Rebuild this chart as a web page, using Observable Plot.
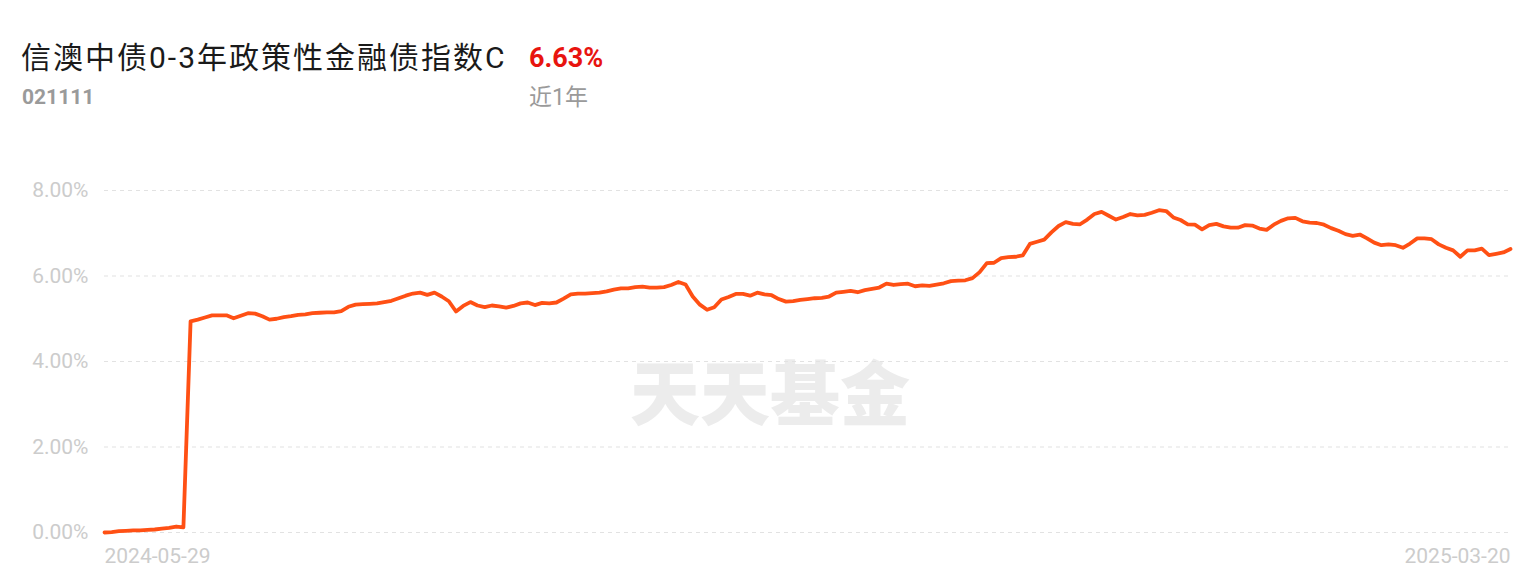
<!DOCTYPE html>
<html><head><meta charset="utf-8">
<script src="https://cdn.jsdelivr.net/npm/d3@7"></script>
<script src="https://cdn.jsdelivr.net/npm/@observablehq/plot@0.6"></script>
<style>
html,body{margin:0;padding:0;background:#fff;}
body{width:1540px;height:583px;position:relative;overflow:hidden;font-family:Roboto,"Noto Sans CJK SC",sans-serif;}
.t{position:absolute;white-space:nowrap;line-height:1;}
#title{left:21px;top:43px;font-size:30px;letter-spacing:2px;color:#1a1a1a;}
#ret{left:529px;top:45px;font-size:27px;font-weight:bold;color:#e8140f;}
#code{left:22px;top:87px;font-size:21px;font-weight:bold;color:#9a9a9a;}
#period{left:529px;top:86px;font-size:23px;color:#9a9a9a;}
#wm{left:630px;top:355px;font-size:70px;font-weight:900;color:#ececec;font-family:"Noto Sans CJK SC",sans-serif;letter-spacing:0px;}
#chart{position:absolute;left:0;top:150px;}
</style></head><body>
<div class="t" id="wm"></div>
<div class="t" id="title"></div>
<div class="t" id="ret"></div>
<div class="t" id="code"></div>
<div class="t" id="period"></div>
<div id="chart"></div>
<script>
const fundName = "信澳中债0-3年政策性金融债指数C";
const fundCode = "021111";
const periodLabel = "近1年";
const periodReturn = "6.63%";
const watermark = "天天基金";
const yTicks = [0, 2, 4, 6, 8];
const xTickLabels = ["2024-05-29", "2025-03-20"];
// cumulative return (%) per trading day
const cumReturn = [
  0.00, 0.01, 0.03, 0.04, 0.05, 0.05, 0.06, 0.07, 0.09, 0.11,
  0.14, 0.12, 4.94, 4.98, 5.03, 5.08, 5.08, 5.08, 5.01, 5.07,
  5.13, 5.12, 5.06, 4.98, 5.00, 5.04, 5.06, 5.09, 5.10, 5.13,
  5.14, 5.15, 5.15, 5.18, 5.28, 5.33, 5.34, 5.35, 5.36, 5.39,
  5.42, 5.48, 5.54, 5.59, 5.61, 5.56, 5.61, 5.52, 5.41, 5.17,
  5.30, 5.39, 5.31, 5.27, 5.31, 5.29, 5.26, 5.30, 5.36, 5.38,
  5.32, 5.37, 5.36, 5.38, 5.47, 5.57, 5.59, 5.59, 5.60, 5.61,
  5.64, 5.68, 5.71, 5.71, 5.74, 5.75, 5.73, 5.73, 5.74, 5.79,
  5.86, 5.80, 5.52, 5.33, 5.21, 5.27, 5.45, 5.51, 5.58, 5.58,
  5.54, 5.61, 5.57, 5.55, 5.46, 5.40, 5.41, 5.44, 5.46, 5.48,
  5.49, 5.52, 5.61, 5.63, 5.65, 5.62, 5.67, 5.70, 5.73, 5.82,
  5.79, 5.81, 5.82, 5.76, 5.78, 5.77, 5.80, 5.83, 5.88, 5.89,
  5.90, 5.95, 6.09, 6.30, 6.31, 6.42, 6.44, 6.45, 6.48, 6.75,
  6.80, 6.85, 7.02, 7.17, 7.26, 7.22, 7.21, 7.32, 7.45, 7.50,
  7.41, 7.32, 7.38, 7.45, 7.42, 7.43, 7.48, 7.54, 7.52, 7.37,
  7.31, 7.21, 7.20, 7.09, 7.19, 7.22, 7.16, 7.13, 7.13, 7.19,
  7.18, 7.11, 7.08, 7.20, 7.29, 7.35, 7.36, 7.28, 7.25, 7.24,
  7.20, 7.12, 7.06, 6.98, 6.94, 6.97, 6.88, 6.78, 6.72, 6.74,
  6.72, 6.66, 6.76, 6.88, 6.88, 6.86, 6.74, 6.66, 6.60, 6.45,
  6.60, 6.60, 6.64, 6.49, 6.52, 6.55, 6.63
];

document.getElementById("title").textContent = fundName;
document.getElementById("ret").textContent = periodReturn;
document.getElementById("code").textContent = fundCode;
document.getElementById("period").textContent = periodLabel;
document.getElementById("wm").textContent = watermark;

const lastIdx = cumReturn.length - 1;
const axisFont = "Roboto, sans-serif";

const chart = Plot.plot({
  width: 1540,
  height: 433,
  marginLeft: 104,
  marginRight: 30,
  marginTop: 40,
  marginBottom: 51,
  style: {background: "transparent", fontFamily: axisFont, overflow: "visible"},
  x: {domain: [0, lastIdx], axis: null},
  y: {domain: [0, 8], axis: null},
  marks: [
    Plot.ruleY(yTicks, {stroke: "#e2e2e2", strokeWidth: 1.2, strokeDasharray: "4,4"}),
    Plot.axisY({ticks: yTicks, tickSize: 0, tickPadding: 16, fontSize: 21, color: "#cccccc",
      tickFormat: d => d.toFixed(2) + "%"}),
    Plot.axisX({ticks: [0], tickSize: 0, tickPadding: 16, fontSize: 21, color: "#cccccc",
      textAnchor: "start", tickFormat: () => xTickLabels[0]}),
    Plot.axisX({ticks: [lastIdx], tickSize: 0, tickPadding: 16, fontSize: 21, color: "#cccccc",
      textAnchor: "end", tickFormat: () => xTickLabels[1]}),
    Plot.lineY(cumReturn, {x: (d, i) => i, y: d => d, stroke: "#ff5014", strokeWidth: 3.8,
      strokeLinejoin: "round", strokeLinecap: "round", clip: false})
  ]
});
document.getElementById("chart").appendChild(chart);
</script>
</body></html>
